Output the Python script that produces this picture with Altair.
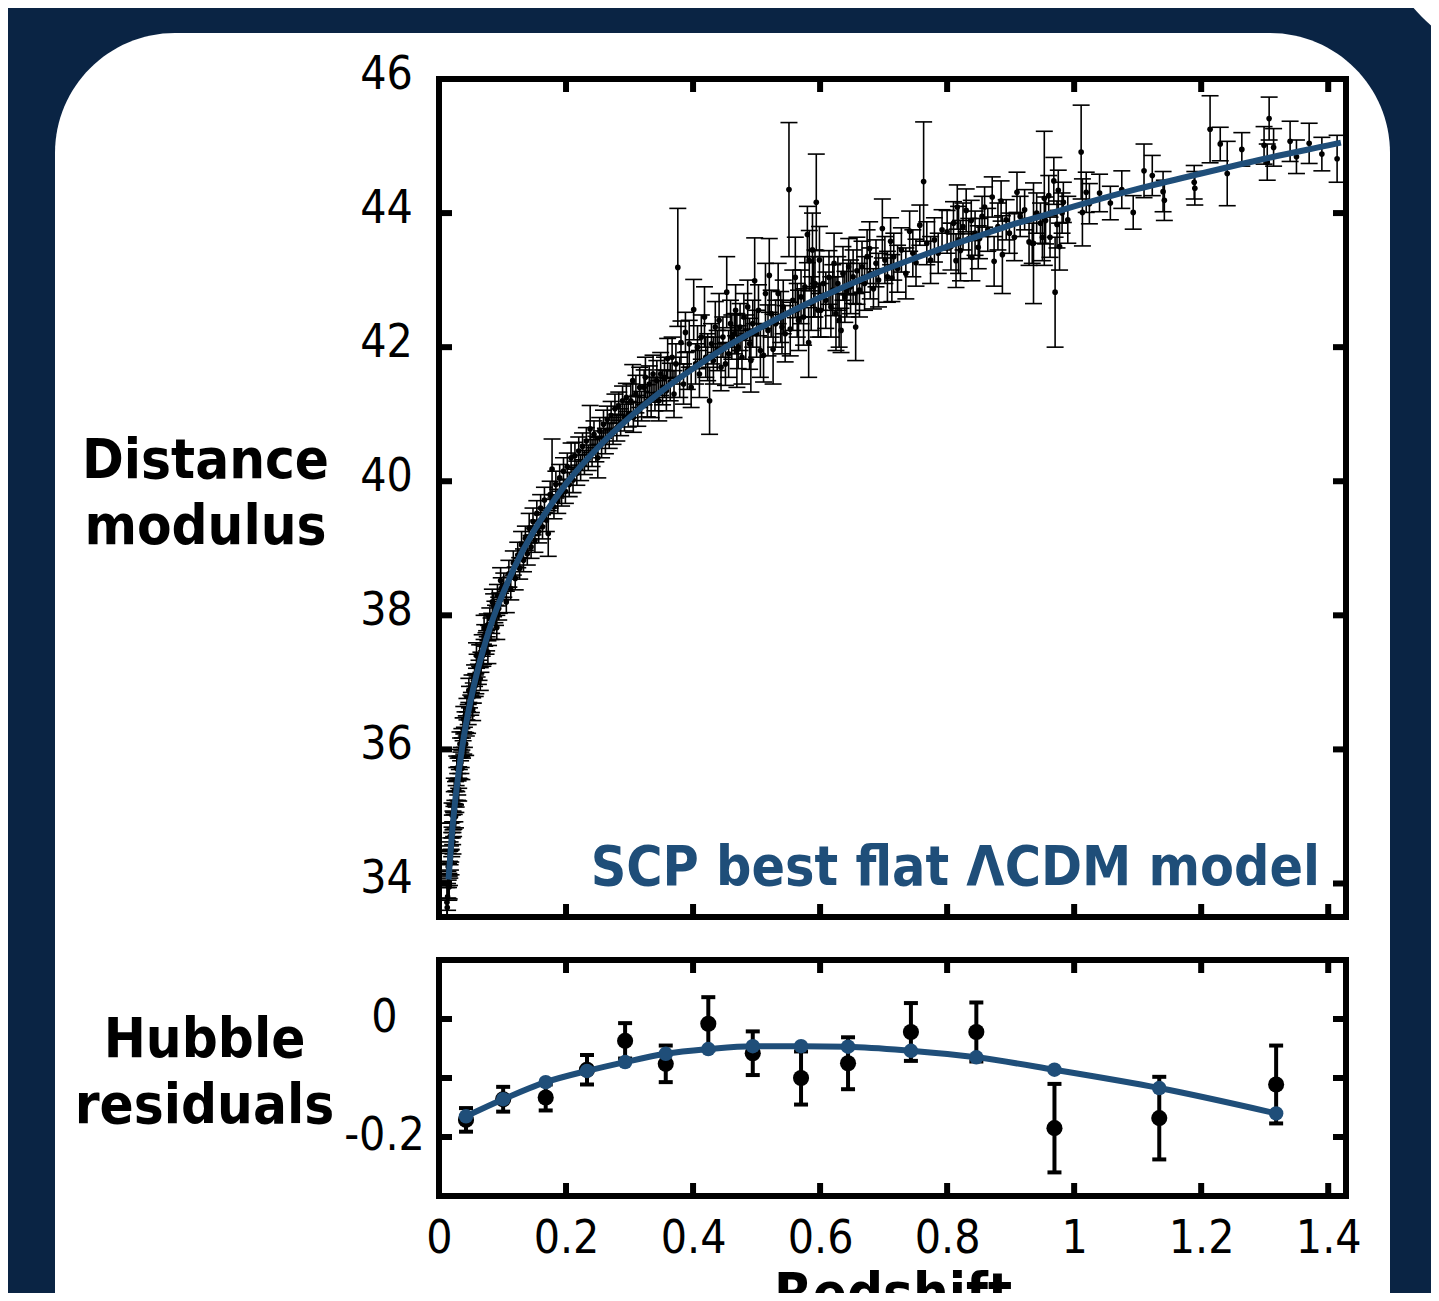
import altair as alt
import pandas as pd

FONT = "DejaVu Sans Condensed, DejaVu Sans"
BLUE = "#1f4e79"
NAVY = "#0a2444"

# ---------------- Hubble diagram: supernovae (redshift, distance modulus, error) ----------------
z_low = [0.0125, 0.014, 0.015, 0.0155, 0.016, 0.017, 0.0175, 0.018, 0.019, 0.020,
         0.021, 0.022, 0.023, 0.024, 0.025, 0.026, 0.027, 0.028, 0.029, 0.030,
         0.031, 0.032, 0.033, 0.034, 0.035, 0.036, 0.037, 0.038, 0.040, 0.041,
         0.043, 0.044, 0.046, 0.048, 0.050, 0.052, 0.054, 0.056, 0.058, 0.060,
         0.062, 0.064, 0.066, 0.068, 0.070, 0.072, 0.074, 0.076, 0.078, 0.080,
         0.083, 0.086, 0.089, 0.092, 0.095, 0.098]
mu_low = [33.72, 33.98, 34.12, 33.95, 34.30, 34.28, 34.45, 34.38, 34.70, 34.58,
          34.85, 34.92, 34.88, 35.20, 35.08, 35.35, 35.30, 35.55, 35.40, 35.70,
          35.58, 35.85, 35.72, 36.00, 35.88, 36.15, 36.02, 36.30, 36.18, 36.40,
          36.35, 36.60, 36.52, 36.78, 36.66, 36.95, 36.84, 37.10, 36.98, 37.25,
          37.12, 37.40, 37.30, 37.55, 37.42, 37.70, 37.58, 37.85, 37.70, 37.95,
          37.88, 38.15, 38.00, 38.30, 38.18, 38.40]
err_low = [0.22, 0.20, 0.18, 0.20, 0.19, 0.20, 0.17, 0.18, 0.20, 0.18,
           0.17, 0.16, 0.18, 0.17, 0.16, 0.17, 0.16, 0.18, 0.16, 0.17,
           0.16, 0.15, 0.16, 0.17, 0.15, 0.16, 0.15, 0.17, 0.15, 0.16,
           0.15, 0.16, 0.15, 0.16, 0.15, 0.16, 0.15, 0.16, 0.15, 0.17,
           0.15, 0.16, 0.15, 0.16, 0.15, 0.16, 0.16, 0.17, 0.15, 0.16,
           0.15, 0.17, 0.15, 0.16, 0.15, 0.16]

z_low2 = [0.0135, 0.0165, 0.0185, 0.0215, 0.0235, 0.0265, 0.0295, 0.0345, 0.039,
          0.045, 0.051, 0.057, 0.063, 0.069, 0.075, 0.082, 0.088, 0.094]
mu_low2 = [33.80, 34.15, 34.50, 34.75, 34.98, 35.22, 35.48, 35.80, 36.08,
           36.40, 36.70, 36.95, 37.18, 37.40, 37.62, 37.80, 38.05, 38.10]
err_low2 = [0.20, 0.18, 0.18, 0.17, 0.17, 0.16, 0.16, 0.16, 0.15,
            0.16, 0.15, 0.16, 0.15, 0.16, 0.15, 0.16, 0.16, 0.17]

z_low3 = [0.013, 0.0145, 0.016, 0.0175, 0.019, 0.0205, 0.022, 0.024, 0.026, 0.028,
          0.031, 0.033, 0.036, 0.039, 0.042, 0.047, 0.053, 0.059, 0.065, 0.071,
          0.077, 0.084, 0.091, 0.097]
mu_low3 = [33.64, 34.25, 33.95, 34.70, 34.32, 35.02, 34.62, 35.38, 35.00, 35.72,
           35.40, 36.08, 35.72, 36.45, 36.08, 36.88, 36.60, 37.40, 37.05, 37.82,
           37.45, 38.20, 37.82, 38.52]
err_low3 = [0.14, 0.20, 0.18, 0.20, 0.19, 0.18, 0.18, 0.19, 0.17, 0.18,
            0.17, 0.18, 0.17, 0.19, 0.17, 0.18, 0.17, 0.19, 0.17, 0.18,
            0.17, 0.19, 0.18, 0.19]

z_mid = [0.102, 0.106, 0.110, 0.113, 0.117, 0.120, 0.124, 0.127, 0.130, 0.133,
         0.136, 0.139, 0.142, 0.145, 0.148, 0.151, 0.154, 0.157, 0.160, 0.163,
         0.166, 0.169, 0.172, 0.175, 0.178, 0.181, 0.184, 0.187, 0.190, 0.193,
         0.196, 0.199, 0.202, 0.205, 0.208, 0.211, 0.214, 0.217, 0.220, 0.223,
         0.226, 0.229, 0.232, 0.235, 0.238, 0.241, 0.244, 0.247, 0.250, 0.253,
         0.256, 0.259, 0.262, 0.265, 0.268, 0.271, 0.274, 0.277, 0.280, 0.283,
         0.286, 0.289, 0.292, 0.295, 0.298]
mu_mid = [38.45, 38.20, 38.62, 38.40, 38.78, 38.55, 38.90, 38.70, 39.05, 38.82,
          39.15, 38.92, 39.30, 39.02, 39.40, 39.12, 39.52, 39.25, 39.60, 39.32,
          39.72, 39.42, 39.22, 39.80, 40.18, 39.62, 39.95, 39.70, 40.05, 39.80,
          40.15, 39.85, 40.22, 39.95, 40.35, 40.02, 40.38, 40.12, 40.45, 40.20,
          40.52, 40.28, 40.60, 40.35, 40.78, 40.42, 40.70, 40.48, 40.35, 40.75,
          40.55, 40.85, 40.60, 40.92, 40.68, 40.98, 40.75, 41.08, 40.80, 41.12,
          40.88, 41.20, 40.95, 41.25, 41.00]
err_mid = [0.18, 0.16, 0.20, 0.17, 0.18, 0.17, 0.19, 0.16, 0.20, 0.17,
           0.18, 0.17, 0.22, 0.17, 0.20, 0.18, 0.19, 0.17, 0.20, 0.18,
           0.19, 0.17, 0.34, 0.20, 0.45, 0.18, 0.20, 0.18, 0.20, 0.17,
           0.20, 0.18, 0.20, 0.18, 0.22, 0.19, 0.20, 0.18, 0.21, 0.19,
           0.20, 0.18, 0.20, 0.19, 0.35, 0.20, 0.20, 0.19, 0.30, 0.20,
           0.20, 0.21, 0.19, 0.20, 0.19, 0.21, 0.20, 0.22, 0.20, 0.21,
           0.20, 0.22, 0.20, 0.21, 0.19]

z_3 = [0.302, 0.305, 0.306, 0.310, 0.313, 0.316, 0.319, 0.323, 0.325, 0.328,
       0.331, 0.334, 0.337, 0.340, 0.343, 0.346, 0.349, 0.352, 0.355, 0.358,
       0.360, 0.364, 0.367, 0.370, 0.373, 0.376, 0.379, 0.381, 0.385, 0.388,
       0.391, 0.394, 0.397, 0.401, 0.404, 0.407, 0.410, 0.413, 0.418, 0.420,
       0.423, 0.426, 0.429, 0.432, 0.435, 0.438, 0.441, 0.444, 0.447, 0.451,
       0.453, 0.456, 0.459, 0.461, 0.465, 0.467, 0.469, 0.471, 0.474, 0.477,
       0.480, 0.483, 0.486, 0.489, 0.491, 0.494, 0.497, 0.500, 0.503, 0.506,
       0.511, 0.514, 0.518, 0.520, 0.523, 0.526, 0.530, 0.534, 0.538, 0.540,
       0.542, 0.545, 0.551, 0.553, 0.557, 0.561, 0.564, 0.566, 0.570, 0.574,
       0.576, 0.580, 0.582, 0.583, 0.586, 0.588, 0.590, 0.592, 0.594, 0.597,
       0.599]
mu_3 = [41.20, 41.50, 40.95, 41.30, 41.05, 41.40, 41.12, 41.40, 41.55, 41.20,
        41.45, 41.25, 41.60, 41.30, 41.50, 41.20, 41.60, 41.40, 41.55, 41.35,
        41.83, 41.48, 41.85, 41.30, 41.75, 43.19, 41.55, 42.07, 41.45, 42.22,
        41.65, 42.05, 41.40, 42.56, 41.75, 42.00, 41.60, 42.15, 42.45, 41.85,
        41.85, 41.20, 42.05, 41.80, 42.30, 41.95, 42.40, 41.70, 42.15, 41.75,
        42.82, 41.90, 42.35, 42.15, 42.20, 42.55, 41.95, 42.00, 42.30, 41.85,
        42.45, 42.15, 42.60, 42.05, 41.80, 42.35, 42.99, 42.20, 42.55, 41.95,
        41.88, 42.80, 42.25, 43.07, 42.50, 41.97, 42.35, 42.80, 42.45, 42.30,
        42.60, 42.20, 44.35, 42.27, 42.70, 43.04, 42.55, 42.40, 42.75, 42.45,
        42.90, 43.68, 42.07, 43.29, 42.65, 43.45, 42.90, 42.95, 44.16, 42.55,
        43.30]
err_3 = [0.25, 0.24, 0.22, 0.28, 0.23, 0.30, 0.22, 0.26, 0.30, 0.24,
         0.27, 0.30, 0.28, 0.25, 0.30, 0.30, 0.32, 0.26, 0.30, 0.30,
         0.30, 0.28, 0.30, 0.35, 0.30, 0.88, 0.30, 0.32, 0.30, 0.30,
         0.28, 0.35, 0.30, 0.45, 0.30, 0.32, 0.35, 0.33, 0.45, 0.30,
         0.35, 0.50, 0.30, 0.35, 0.38, 0.30, 0.40, 0.35, 0.30, 0.32,
         0.53, 0.35, 0.35, 0.33, 0.30, 0.38, 0.55, 0.32, 0.35, 0.40,
         0.35, 0.33, 0.40, 0.38, 0.47, 0.35, 0.64, 0.35, 0.38, 0.40,
         0.40, 0.45, 0.38, 0.55, 0.35, 0.52, 0.35, 0.45, 0.38, 0.40,
         0.40, 0.42, 1.00, 0.40, 0.45, 0.60, 0.40, 0.45, 0.40, 0.42,
         0.45, 0.42, 0.52, 0.45, 0.40, 0.55, 0.45, 0.50, 0.72, 0.40,
         0.50]

z_4 = [0.601, 0.605, 0.609, 0.614, 0.617, 0.620, 0.622, 0.625, 0.628, 0.630,
       0.633, 0.636, 0.639, 0.642, 0.645, 0.648, 0.652, 0.656, 0.658, 0.662,
       0.666, 0.670, 0.674, 0.678, 0.679, 0.684, 0.688, 0.692, 0.698, 0.702,
       0.706, 0.711, 0.713, 0.716, 0.722, 0.728, 0.735, 0.741, 0.746, 0.751,
       0.757, 0.763, 0.768, 0.774, 0.780, 0.786, 0.792, 0.800, 0.806, 0.810,
       0.814, 0.816, 0.818, 0.821, 0.825, 0.830, 0.834, 0.838, 0.839, 0.844,
       0.849, 0.851, 0.855, 0.859, 0.864, 0.871, 0.874, 0.880, 0.885, 0.887,
       0.893, 0.898]
mu_4 = [42.55, 42.95, 42.70, 43.04, 42.60, 42.85, 43.25, 42.50, 42.95, 42.40,
        42.25, 43.10, 42.75, 42.85, 43.20, 42.90, 43.05, 42.30, 43.14, 42.85,
        43.20, 42.95, 43.35, 43.47, 43.10, 42.87, 43.25, 43.00, 43.77, 43.30,
        43.05, 43.58, 43.03, 43.35, 43.17, 43.45, 43.10, 43.73, 43.40, 43.26,
        43.82, 44.47, 43.55, 43.30, 43.60, 43.40, 43.75, 43.72, 43.50, 43.85,
        43.29, 44.09, 43.60, 43.44, 43.80, 44.04, 43.62, 43.89, 43.34, 43.70,
        43.49, 43.62, 43.95, 44.09, 43.75, 44.24, 43.28, 43.80, 44.18, 43.38,
        43.90, 43.70]
err_4 = [0.40, 0.40, 0.42, 0.40, 0.45, 0.38, 0.45, 0.55, 0.40, 0.40,
         0.33, 0.40, 0.38, 0.40, 0.42, 0.40, 0.40, 0.50, 0.50, 0.40,
         0.38, 0.40, 0.40, 0.40, 0.38, 0.30, 0.35, 0.40, 0.44, 0.35,
         0.38, 0.35, 0.35, 0.35, 0.35, 0.33, 0.38, 0.30, 0.35, 0.35,
         0.30, 0.89, 0.32, 0.35, 0.33, 0.30, 0.30, 0.32, 0.35, 0.32,
         0.40, 0.33, 0.50, 0.45, 0.35, 0.32, 0.30, 0.30, 0.35, 0.33,
         0.32, 0.30, 0.30, 0.30, 0.32, 0.30, 0.37, 0.35, 0.30, 0.58,
         0.30, 0.30]

z_5 = [0.906, 0.910, 0.915, 0.922, 0.929, 0.934, 0.936, 0.941, 0.947, 0.950,
       0.953, 0.955, 0.960, 0.962, 0.968, 0.970, 0.973, 0.975, 0.977, 0.981,
       0.983, 0.990, 1.011, 1.013, 1.019, 1.024, 1.040, 1.057, 1.075, 1.093,
       1.110, 1.123, 1.140, 1.142, 1.189, 1.190, 1.214, 1.230, 1.241, 1.264,
       1.299, 1.304, 1.307, 1.314, 1.340, 1.350, 1.370, 1.390, 1.414]
mu_5 = [43.64, 44.31, 43.95, 44.05, 43.57, 43.55, 43.55, 44.00, 43.85, 43.64,
        44.22, 43.89, 44.26, 43.64, 44.48, 42.82, 43.83, 44.34, 43.50, 44.00,
        44.16, 43.90, 44.91, 44.01, 44.31, 44.14, 44.30, 44.15, 44.35, 44.01,
        44.63, 44.56, 44.32, 44.19, 44.46, 44.37, 45.25, 45.03, 44.59, 44.95,
        45.01, 44.76, 45.41, 44.98, 45.07, 44.84, 45.04, 44.88, 44.81]
err_5 = [0.35, 0.30, 0.30, 0.30, 0.35, 0.30, 0.90, 0.30, 0.30, 0.35,
         1.00, 0.35, 0.30, 0.30, 0.35, 0.82, 0.35, 0.30, 0.35, 0.30,
         0.30, 0.35, 0.70, 0.50, 0.30, 0.30, 0.28, 0.25, 0.28, 0.25,
         0.40, 0.30, 0.30, 0.30, 0.25, 0.25, 0.50, 0.25, 0.48, 0.25,
         0.28, 0.27, 0.32, 0.28, 0.30, 0.25, 0.30, 0.25, 0.35]

# best-fit flat LCDM curve
z_curve = [0.015, 0.02, 0.025, 0.03, 0.04, 0.05, 0.06, 0.07, 0.08, 0.09, 0.1, 0.12,
           0.15, 0.175, 0.2, 0.25, 0.3, 0.35, 0.4, 0.45, 0.5, 0.55, 0.6, 0.65,
           0.7, 0.75, 0.8, 0.85, 0.9, 0.95, 1.0, 1.1, 1.2, 1.3, 1.4, 1.42]
mu_curve = [34.06, 34.70, 35.19, 35.59, 36.24, 36.74, 37.15, 37.50, 37.81, 38.08, 38.31, 38.74,
            39.27, 39.63, 39.96, 40.50, 40.95, 41.34, 41.68, 41.99, 42.26, 42.51, 42.74, 42.95,
            43.15, 43.33, 43.50, 43.66, 43.82, 43.96, 44.10, 44.36, 44.59, 44.81, 45.01, 45.05]

# ---------------- Binned Hubble residuals ----------------
z_bin = [0.0425, 0.101, 0.168, 0.233, 0.293, 0.357, 0.424, 0.494, 0.570, 0.644,
         0.743, 0.846, 0.969, 1.134, 1.318]
res_bin = [-0.171, -0.136, -0.133, -0.086, -0.037, -0.076, -0.008, -0.058, -0.100, -0.075,
           -0.022, -0.022, -0.185, -0.168, -0.111]
res_err = [0.020, 0.021, 0.022, 0.025, 0.030, 0.031, 0.045, 0.037, 0.045, 0.044,
           0.049, 0.050, 0.075, 0.070, 0.066]
res_model = [-0.165, -0.136, -0.107, -0.088, -0.073, -0.059, -0.051, -0.046, -0.046, -0.047,
             -0.054, -0.065, -0.086, -0.117, -0.160]

# tick positions
x_ticks = [0.2, 0.4, 0.6, 0.8, 1.0, 1.2, 1.4]
x_labels = [0, 0.2, 0.4, 0.6, 0.8, 1, 1.2, 1.4]
mu_ticks = [34, 36, 38, 40, 42, 44]
mu_labels = [34, 36, 38, 40, 42, 44, 46]
res_ticks = [0, -0.1, -0.2]
res_labels = [0, -0.2]

# ---------------- layout constants (pixels) ----------------
W = 907
H_TOP = 838
BOT_TOP = 881
H_ALL = 1117
TK = 13

sn = pd.DataFrame({
    "z": z_low + z_low2 + z_low3 + z_mid + z_3 + z_4 + z_5,
    "mu": mu_low + mu_low2 + mu_low3 + mu_mid + mu_3 + mu_4 + mu_5,
    "err": err_low + err_low2 + err_low3 + err_mid + err_3 + err_4 + err_5,
})
sn["lo"] = sn["mu"] - sn["err"]
sn["hi"] = sn["mu"] + sn["err"]
curve = pd.DataFrame({"z": z_curve, "mu": mu_curve})

res = pd.DataFrame({"z": z_bin, "r": res_bin, "e": res_err, "m": res_model})
res["lo"] = res["r"] - res["e"]
res["hi"] = res["r"] + res["e"]

xscale = alt.Scale(domain=[0, 1.428], nice=False, zero=False)
yscale_top = alt.Scale(domain=[33.5, 46], range=[H_TOP, 0], nice=False, zero=False)
yscale_bot = alt.Scale(domain=[-0.3, 0.1], range=[H_ALL, BOT_TOP], nice=False, zero=False)

x_axis = alt.Axis(values=x_labels, format="~g", ticks=False, tickSize=0, domain=False, grid=False,
                  labelFont=FONT, labelFontSize=46, labelColor="black", labelBaseline="alphabetic",
                  labelPadding=56, labelFlush=False, labelOverlap=False,
                  title="Redshift", titleFont=FONT, titleFontSize=56, titleFontWeight="bold",
                  titleColor="black", titleBaseline="alphabetic", titleY=115, zindex=2)
y_axis_top = alt.Axis(values=mu_labels, format="d", ticks=False, tickSize=0, domain=False, grid=False,
                      orient="left", labelFont=FONT, labelFontSize=46, labelColor="black",
                      labelAlign="center", labelBaseline="alphabetic", labelPadding=53, labelOffset=9.5,
                      labelFlush=False, labelOverlap=False,
                      title=["Distance", "modulus"], titleFont=FONT, titleFontSize=56,
                      titleFontWeight="bold", titleColor="black", titleAngle=0, titleAlign="center",
                      titleBaseline="middle", titleLineHeight=66, titleX=-234, titleY=381, zindex=2)
y_axis_bot = alt.Axis(values=res_labels, ticks=False, tickSize=0, domain=False, grid=False,
                      orient="left", labelFont=FONT, labelFontSize=46, labelColor="black",
                      labelExpr="datum.value < 0 ? '-' + format(-datum.value, '~g') : format(datum.value, '~g')",
                      labelAlign="center", labelBaseline="alphabetic", labelPadding=55, labelOffset=12,
                      labelFlush=False, labelOverlap=False,
                      title=["Hubble", "residuals"], titleFont=FONT, titleFontSize=56,
                      titleFontWeight="bold", titleColor="black", titleAngle=0, titleAlign="center",
                      titleBaseline="middle", titleLineHeight=66, titleX=-235, titleY=960, zindex=2)


def X(field):
    return alt.X(field, type="quantitative", scale=xscale, axis=x_axis)


def YT(field):
    return alt.Y(field, type="quantitative", scale=yscale_top, axis=y_axis_top)


def YB(field):
    return alt.Y(field, type="quantitative", scale=yscale_bot, axis=y_axis_bot)


one = pd.DataFrame({"k": [0]})

# background card
card = alt.Chart(one).mark_rect(fill="white", cornerRadius=120).encode(
    x=alt.value(-384), x2=alt.value(951), y=alt.value(-46), y2=alt.value(1500))
corner = alt.Chart(one).mark_rect(fill="white", cornerRadius=150).encode(
    x=alt.value(939), x2=alt.value(1700), y=alt.value(-700), y2=alt.value(-18))

# --- top panel ---
snc = alt.Chart(sn)
bars = snc.mark_rule(color="black", strokeWidth=1.6).encode(x=X("z"), y=YT("lo"), y2="hi")
cap_lo = snc.mark_tick(orient="horizontal", color="black", size=17, thickness=1.6, opacity=1).encode(
    x=X("z"), y=YT("lo"))
cap_hi = snc.mark_tick(orient="horizontal", color="black", size=17, thickness=1.6, opacity=1).encode(
    x=X("z"), y=YT("hi"))
dots = snc.mark_circle(color="black", size=32, opacity=1).encode(x=X("z"), y=YT("mu"))
model = alt.Chart(curve).mark_line(color=BLUE, strokeWidth=6, interpolate="monotone").encode(
    x=X("z"), y=YT("mu"))
mt = alt.Chart(pd.DataFrame({"v": mu_ticks}))
mt_l = mt.mark_rule(color="black", strokeWidth=6).encode(y=YT("v"), x=alt.value(0), x2=alt.value(TK))
mt_r = mt.mark_rule(color="black", strokeWidth=6).encode(y=YT("v"), x=alt.value(W), x2=alt.value(W - TK))
top = alt.layer(bars, cap_lo, cap_hi, dots, model, mt_l, mt_r)

# --- bottom panel ---
rc = alt.Chart(res)
rbars = rc.mark_rule(color="black", strokeWidth=4).encode(x=X("z"), y=YB("lo"), y2="hi")
rcap_lo = rc.mark_tick(orient="horizontal", color="black", size=14, thickness=4, opacity=1).encode(
    x=X("z"), y=YB("lo"))
rcap_hi = rc.mark_tick(orient="horizontal", color="black", size=14, thickness=4, opacity=1).encode(
    x=X("z"), y=YB("hi"))
rdots = rc.mark_circle(color="black", size=260, opacity=1).encode(x=X("z"), y=YB("r"))
rline = rc.mark_line(color=BLUE, strokeWidth=6, interpolate="monotone").encode(x=X("z"), y=YB("m"))
rmod = rc.mark_circle(color=BLUE, size=210, opacity=1).encode(x=X("z"), y=YB("m"))
rt = alt.Chart(pd.DataFrame({"v": res_ticks}))
rt_l = rt.mark_rule(color="black", strokeWidth=6).encode(y=YB("v"), x=alt.value(0), x2=alt.value(TK))
rt_r = rt.mark_rule(color="black", strokeWidth=6).encode(y=YB("v"), x=alt.value(W), x2=alt.value(W - TK))
bottom = alt.layer(rbars, rcap_lo, rcap_hi, rdots, rline, rmod, rt_l, rt_r)

# --- x ticks on all horizontal frame edges ---
xt = alt.Chart(pd.DataFrame({"v": x_ticks}))
xt_layers = []
for y0, y1 in [(0, TK), (H_TOP, H_TOP - TK), (BOT_TOP, BOT_TOP + TK), (H_ALL, H_ALL - TK)]:
    xt_layers.append(xt.mark_rule(color="black", strokeWidth=6).encode(
        x=X("v"), y=alt.value(y0), y2=alt.value(y1)))

# --- frames ---
frame_top = alt.Chart(one).mark_rect(fillOpacity=0, stroke="black", strokeWidth=6).encode(
    x=alt.value(0), x2=alt.value(W), y=alt.value(0), y2=alt.value(H_TOP))
frame_bot = alt.Chart(one).mark_rect(fillOpacity=0, stroke="black", strokeWidth=6).encode(
    x=alt.value(0), x2=alt.value(W), y=alt.value(BOT_TOP), y2=alt.value(H_ALL))

label = alt.Chart(pd.DataFrame({"t": ["SCP best flat ΛCDM model"]})).mark_text(
    font=FONT, fontSize=55, fontWeight="bold", color=BLUE, align="right", baseline="alphabetic"
).encode(text="t:N", x=alt.value(881), y=alt.value(806))

chart = alt.layer(
    card, corner, top, bottom, *xt_layers, frame_top, frame_bot, label
).resolve_scale(y="independent").properties(
    width=W, height=H_ALL,
    autosize=alt.AutoSizeParams(type="none"),
    padding={"left": 431, "top": 71, "right": 85, "bottom": 97},
    background=NAVY,
).configure_view(strokeWidth=0)

chart.save("out.html", embed_options={"renderer": "svg", "actions": False})
